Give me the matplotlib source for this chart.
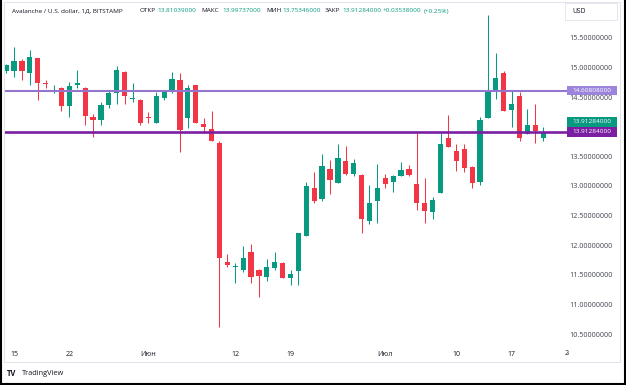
import matplotlib
matplotlib.use("Agg")
import matplotlib.pyplot as plt
import matplotlib.dates as mdates
import matplotlib.transforms as mtransforms
from matplotlib.patches import Rectangle
import numpy as np
import pandas as pd

plt.rcParams['font.family'] = ['Open Sans', 'DejaVu Sans']

# daily AVAX/USD candles, Bitstamp
dates = pd.date_range("2023-05-14", "2023-07-21", freq="D")
opens = [14.93, 14.94, 15.10, 14.91, 15.15, 14.73, 14.58, 14.66, 14.35, 14.70,
         14.66, 14.16, 14.11, 14.37, 14.56, 14.92, 14.47, 14.45, 14.17, 14.07,
         14.48, 14.58, 14.79, 14.14, 14.70, 14.04, 13.96, 13.73, 11.72, 11.64,
         11.59, 11.88, 11.59, 11.47, 11.61, 11.70, 11.45, 11.57, 12.16, 12.97,
         12.78, 13.29, 13.05, 13.42, 13.20, 13.19, 12.41, 12.75, 13.14, 13.06,
         13.17, 13.29, 13.03, 12.72, 12.56, 12.88, 13.81, 13.59, 13.62, 13.32,
         13.06, 14.14, 14.62, 14.91, 14.28, 14.52, 13.87, 14.03, 13.81039]
highs = [15.06, 15.35, 15.14, 15.29, 15.16, 14.79, 14.70, 14.67, 14.76, 14.96,
         14.67, 14.22, 14.42, 14.61, 15.02, 14.93, 14.74, 14.46, 14.25, 14.58,
         14.61, 14.92, 14.91, 14.70, 14.71, 14.14, 14.26, 13.75, 11.86, 11.70,
         11.99, 12.02, 11.60, 11.77, 11.89, 11.71, 11.58, 12.20, 13.07, 13.24,
         13.54, 13.44, 13.70, 13.67, 13.45, 13.20, 13.02, 13.37, 13.20, 13.19,
         13.40, 13.35, 13.89, 13.14, 12.81, 13.90, 14.20, 13.71, 13.71, 13.33,
         14.17, 15.88, 15.24, 14.93, 14.62, 14.59, 14.30, 14.39, 13.99737]
lows = [14.90, 14.84, 14.78, 14.71, 14.45, 14.65, 14.56, 14.27, 14.16, 14.65,
        14.03, 13.83, 14.03, 14.31, 14.39, 14.39, 14.42, 14.03, 14.07, 14.06,
        14.45, 14.56, 13.58, 13.97, 14.06, 13.90, 13.75, 10.63, 11.64, 11.37,
        11.55, 11.36, 11.13, 11.39, 11.58, 11.44, 11.33, 11.33, 12.16, 12.72,
        12.75, 12.86, 13.05, 13.18, 13.17, 12.20, 12.36, 12.37, 12.96, 12.89,
        13.17, 13.17, 12.59, 12.38, 12.45, 12.88, 13.66, 13.26, 13.24, 12.96,
        13.02, 14.14, 14.46, 14.27, 14.00, 13.75, 13.87, 13.73, 13.75346]
closes = [15.04, 15.10, 14.93, 15.18, 14.73, 14.72, 14.62, 14.34, 14.69, 14.74,
          14.18, 14.11, 14.37, 14.56, 14.96, 14.51, 14.49, 14.07, 14.15, 14.51,
          14.59, 14.80, 13.94, 14.65, 14.07, 14.00, 13.76, 11.78, 11.66, 11.65,
          11.79, 11.47, 11.49, 11.63, 11.71, 11.44, 11.52, 12.20, 13.00, 12.75,
          13.34, 13.10, 13.47, 13.20, 13.38, 12.44, 12.72, 12.96, 13.03, 13.16,
          13.27, 13.19, 12.72, 12.58, 12.76, 13.70, 13.66, 13.42, 13.31, 13.05,
          14.12, 14.62, 14.82, 14.27, 14.38, 13.81, 14.03, 13.92, 13.91284]

level_hi = 14.60808
level_lo = 13.91284

tick_dates = pd.to_datetime(["2023-05-15", "2023-05-22", "2023-06-01", "2023-06-12",
                             "2023-06-19", "2023-07-01", "2023-07-10", "2023-07-17"])
tick_labels = ["15", "22", "Июн", "12", "19", "Июл", "10", "17"]
last_tick_date = pd.Timestamp("2023-07-24")
last_tick_label = "24"
price_ticks = np.arange(10.5, 15.51, 0.5)

header_parts = [("Avalanche / U.S. dollar, 1Д, BITSTAMP", 11.5, "#131722"),
                ("ОТКР", 140, "#131722"), ("13.81039000", 157, "#089981"),
                ("МАКС", 201.5, "#131722"), ("13.99737000", 222, "#089981"),
                ("МИН", 266.5, "#131722"), ("13.75346000", 282, "#089981"),
                ("ЗАКР", 325, "#131722"), ("13.91284000", 342.5, "#089981"),
                ("+0.03538000", 383, "#089981"), ("(+0.25%)", 424, "#089981")]

GREEN = "#089981"
RED = "#f23645"
TXT = "#131722"

W, H = 626, 385
fig = plt.figure(figsize=(W / 100, H / 100), dpi=100)
fig.patch.set_facecolor("white")


def fx(x):
    return x / W


def fy(y):
    return 1 - y / H


ax = fig.add_axes([fx(4), fy(342), (568 - 4) / W, (342 - 3) / H])
ax.set_facecolor("white")

opens = np.array(opens)
closes = np.array(closes)
up = closes >= opens
colors = np.where(up, GREEN, RED)

ax.vlines(dates, lows, highs, colors=colors, linewidth=0.75, zorder=2)
body = np.maximum(np.abs(closes - opens), 0.018)
ax.bar(dates, body, bottom=np.minimum(opens, closes), width=0.66,
       color=colors, linewidth=0, zorder=3)

ax.axhline(level_hi, color="#9575cd", linewidth=1.5, zorder=4)
ax.axhline(level_lo, color="#7b1fa2", linewidth=1.9, zorder=4)

base = mdates.date2num(pd.Timestamp("2023-05-15"))
ax.set_xlim(base - 1.27, base + 70.13)
ax.set_ylim(10.369, 16.085)

for s in ax.spines.values():
    s.set_visible(False)

ax.set_xticks(tick_dates)
ax.set_xticklabels(tick_labels)
ax.tick_params(axis="x", length=0, pad=6.2, labelsize=5, labelcolor=TXT)

ax.yaxis.tick_right()
ax.set_yticks(price_ticks)
# the 14.0 label sits fully under the price markers
ax.set_yticklabels(["" if abs(v - 14.0) < 1e-9 else "%.8f" % v for v in price_ticks])
ax.tick_params(axis="y", length=0, pad=1.0, labelsize=5.2, labelcolor="#434651")

# last date label is cut by the price scale
t24 = fig.text(fx(569), fy(353.5), last_tick_label, ha="center", va="center",
               fontsize=5, color=TXT)
t24.set_clip_path(Rectangle((0, 0), fx(569.2), 1, transform=fig.transFigure))

# price labels on the scale
trans = mtransforms.blended_transform_factory(fig.transFigure, ax.transData)
ppx = (16.085 - 10.369) / (342 - 3)
labels = [(level_hi, 0.0, "#9c84dc", "14.60808000"),
          (level_lo, 10.0 * ppx, GREEN, "13.91284000"),
          (level_lo, 0.0, "#7b1fa2", "13.91284000")]
for lv, off, col, txt in labels:
    ax.add_patch(Rectangle((fx(566.5), lv + off - 4.9 * ppx), 50 / W, 9.8 * ppx,
                           transform=trans, facecolor=col, edgecolor="none",
                           clip_on=False, zorder=6))
    ax.text(fx(591.5), lv + off, txt, transform=trans, ha="center", va="center",
            fontsize=4.6, color="white", zorder=7, clip_on=False)

# header
for txt, x, col in header_parts:
    fig.text(fx(x), fy(11), txt, ha="left", va="center", fontsize=4.55, color=col)

# currency box
fig.add_artist(Rectangle((fx(565), fy(20)), 52 / W, 17 / H, transform=fig.transFigure,
                         facecolor="white", edgecolor="#e0e3eb", linewidth=0.6))
fig.text(fx(572), fy(11.5), "USD", ha="left", va="center", fontsize=4.9, color=TXT)

# frames
fig.add_artist(Rectangle((fx(4), fy(362)), (620 - 4) / W, (362 - 2) / H,
                         transform=fig.transFigure, fill=False,
                         edgecolor="#e0e3eb", linewidth=0.7))
fig.add_artist(plt.Line2D([fx(1), fx(1)], [0, 1], color="black", linewidth=1.5,
                          transform=fig.transFigure))
fig.add_artist(plt.Line2D([fx(625), fx(625)], [0, 1], color="black", linewidth=1.5,
                          transform=fig.transFigure))
fig.add_artist(plt.Line2D([0, 1], [fy(383.8), fy(383.8)], color="black", linewidth=1.5,
                          transform=fig.transFigure))

# branding
fig.text(fx(6.5), fy(373.5), "TV", ha="left", va="center", fontsize=5.5,
         fontweight="bold", color=TXT)
fig.text(fx(21.5), fy(373.5), "TradingView", ha="left", va="center", fontsize=5.3,
         color=TXT)

fig.savefig("out.png", dpi=100)
